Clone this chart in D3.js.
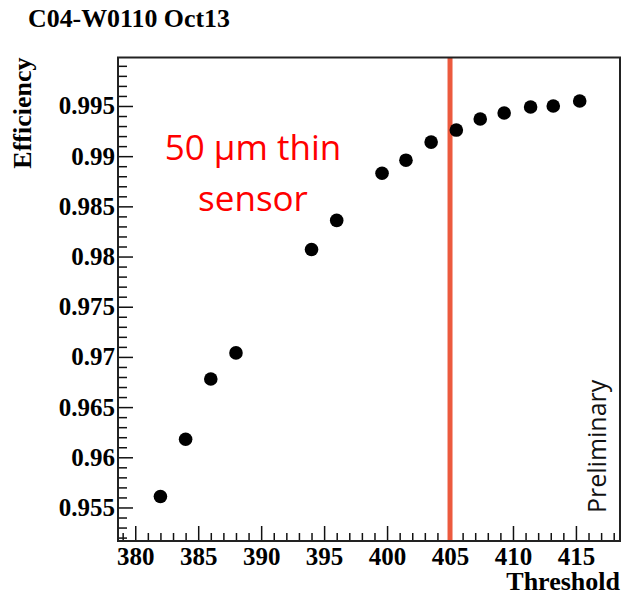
<!DOCTYPE html>
<html>
<head>
<meta charset="utf-8" />
<title>C04-W0110 Oct13</title>
<script src="https://cdn.jsdelivr.net/npm/d3@7"></script>
<style>
  body { margin: 0; background: #fff; }
</style>
</head>
<body>
<script>
// threshold scan
var thresholds = [382, 384, 386, 388, 394, 396, 399.6, 401.5, 403.5, 405.5, 407.4, 409.3, 411.4, 413.2, 415.3];
var efficiency = [0.9561, 0.9618, 0.9678, 0.9704, 0.9807, 0.9836, 0.9883, 0.9896, 0.9914, 0.9926, 0.9937, 0.9943, 0.9949, 0.9950, 0.9955];
var xTicks = [380, 385, 390, 395, 400, 405, 410, 415];
var yTicks = [0.955, 0.96, 0.965, 0.97, 0.975, 0.98, 0.985, 0.99, 0.995];
var yTickLabels = ['0.955', '0.96', '0.965', '0.97', '0.975', '0.98', '0.985', '0.99', '0.995'];
var cutThreshold = [405];

var width = 633, height = 596;
// plot frame (window.top is reserved, so no "top" here)
var padL = 118, padR = 620, padT = 57.5, padB = 541;

var svg = d3.select('body').append('svg').attr('width', width).attr('height', height);
svg.append('rect').attr('width', width).attr('height', height).attr('fill', '#fff');

var x = d3.scaleLinear().domain([378.63, 418.5]).range([padL, padR]);
var y = d3.scaleLinear().domain([0.95166, 0.99983]).range([padB, padT]);

var serif = '"Liberation Serif", "Times New Roman", serif';

// minor ticks
var xMinor = d3.range(379, 419).filter(function(v){ return v % 5 !== 0; });
var yMinor = d3.range(952, 1000).map(function(v){ return v / 1000; }).filter(function(v){ return Math.round(v * 1000) % 5 !== 0; });

svg.append('g').attr('transform', 'translate(0,' + padB + ')')
  .call(d3.axisBottom(x).tickValues(xMinor).tickSizeInner(-8).tickSizeOuter(0).tickFormat(''))
  .call(function(g){ g.select('.domain').remove(); });
svg.append('g').attr('transform', 'translate(' + padL + ',0)')
  .call(d3.axisLeft(y).tickValues(yMinor).tickSizeInner(-9).tickSizeOuter(0).tickFormat(''))
  .call(function(g){ g.select('.domain').remove(); });

// major ticks + labels
var xAxis = svg.append('g').attr('transform', 'translate(0,' + padB + ')')
  .call(d3.axisBottom(x).tickValues(xTicks).tickSizeInner(-15).tickSizeOuter(0).tickPadding(6));
xAxis.select('.domain').remove();
xAxis.selectAll('text').attr('font-family', serif).attr('font-weight', 'bold').attr('font-size', 25).attr('fill', '#000');

var yAxis = svg.append('g').attr('transform', 'translate(' + padL + ',0)')
  .call(d3.axisLeft(y).tickValues(yTicks).tickSizeInner(-15).tickSizeOuter(0).tickPadding(3)
    .tickFormat(function(d, i){ return yTickLabels[i]; }));
yAxis.select('.domain').remove();
yAxis.selectAll('text').attr('font-family', serif).attr('font-weight', 'bold').attr('font-size', 25).attr('fill', '#000');

svg.selectAll('.tick line').attr('stroke', '#111').attr('stroke-width', 1.5);

// red cut line
svg.selectAll('.cut').data(cutThreshold).enter().append('line')
  .attr('x1', function(d){ return x(d); }).attr('x2', function(d){ return x(d); })
  .attr('y1', padT).attr('y2', padB)
  .attr('stroke', '#ec5a3e').attr('stroke-width', 5);

// frame
svg.append('rect').attr('x', padL).attr('y', padT).attr('width', padR - padL).attr('height', padB - padT)
  .attr('fill', 'none').attr('stroke', '#222').attr('stroke-width', 2);

// points
svg.selectAll('circle').data(thresholds).enter().append('circle')
  .attr('cx', function(d){ return x(d); })
  .attr('cy', function(d, i){ return y(efficiency[i]); })
  .attr('r', 6.8)
  .attr('fill', '#000');

// titles
svg.append('text').text('C04-W0110 Oct13')
  .attr('x', 28).attr('y', 27)
  .attr('font-family', serif).attr('font-weight', 'bold').attr('font-size', 25)
  .attr('textLength', 202).attr('lengthAdjust', 'spacingAndGlyphs');

svg.append('text').text('Threshold')
  .attr('x', padR).attr('y', 590).attr('text-anchor', 'end')
  .attr('font-family', serif).attr('font-weight', 'bold').attr('font-size', 26);

svg.append('text').text('Efficiency')
  .attr('transform', 'translate(31,' + padT + ') rotate(-90)')
  .attr('text-anchor', 'end')
  .attr('font-family', serif).attr('font-weight', 'bold').attr('font-size', 26);

// annotations
var ann = svg.append('text').attr('fill', '#ff0000')
  .attr('font-family', '"Open Sans", "Noto Sans", sans-serif').attr('font-size', 35)
  .attr('text-anchor', 'middle');
ann.append('tspan').attr('x', 253).attr('y', 160).text('50 \u00b5m thin');
ann.append('tspan').attr('x', 253).attr('y', 211).text('sensor');

svg.append('text').text('Preliminary')
  .attr('transform', 'translate(606,513) rotate(-90)')
  .attr('font-family', '"Open Sans", "Noto Sans", sans-serif').attr('font-size', 25)
  .attr('fill', '#111');
</script>
</body>
</html>
